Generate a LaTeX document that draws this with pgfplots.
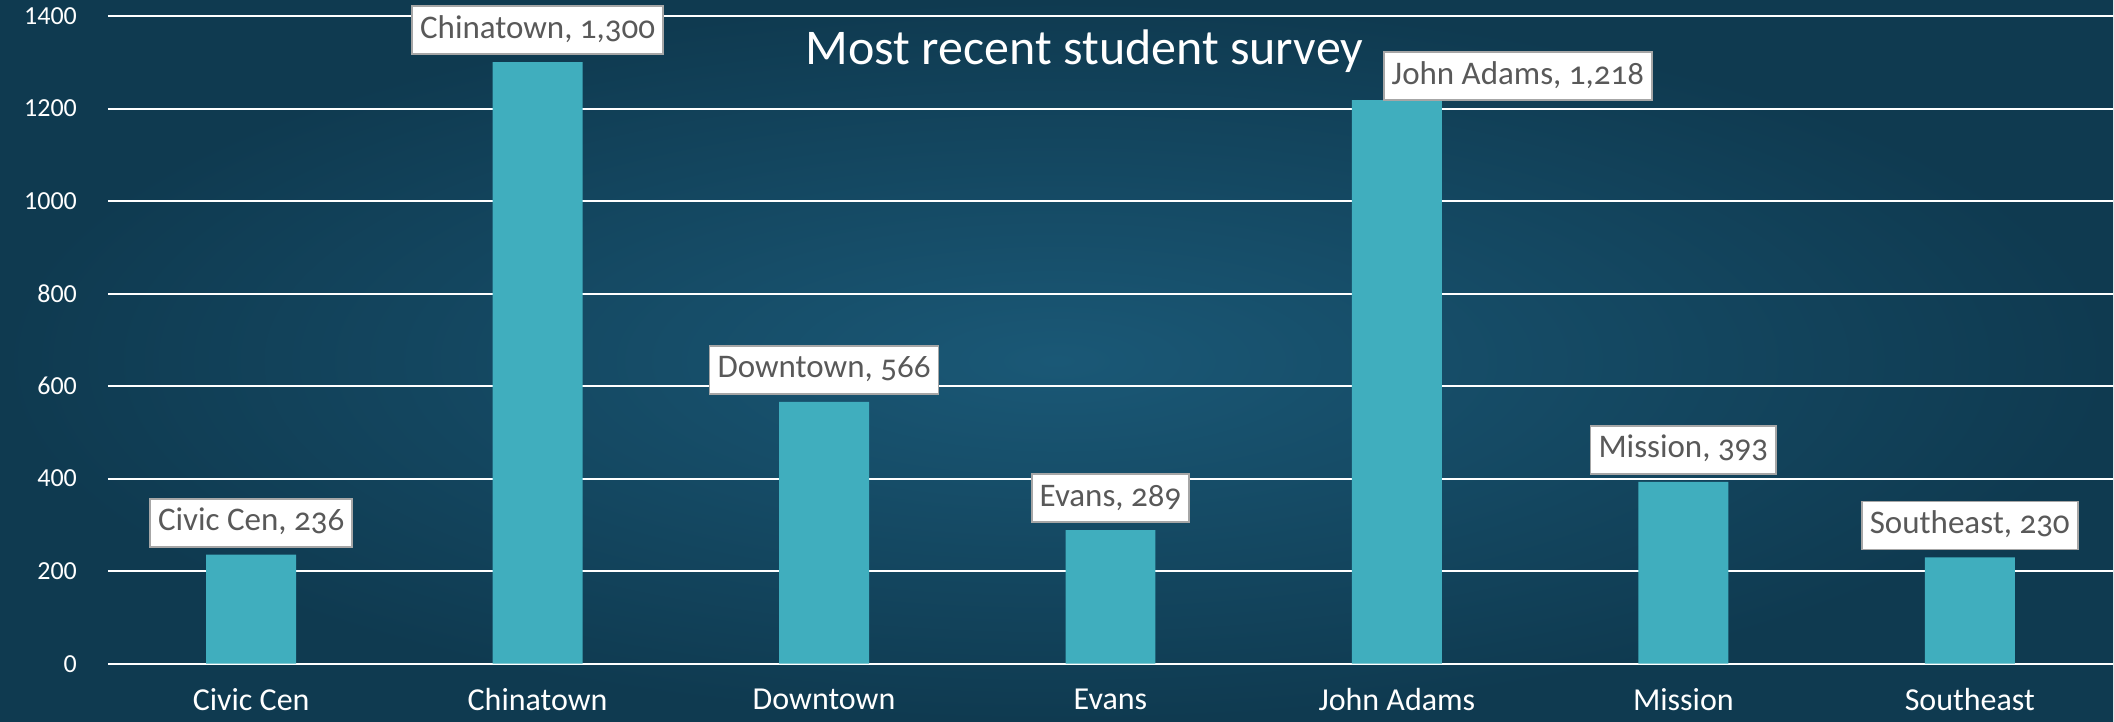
\documentclass[border=0pt]{standalone}
\usepackage{pgfplots}
\usepackage{pgfplotstable}
\pgfplotsset{compat=1.18}
\usepackage{fontspec}
\setmainfont{Carlito}
\newfontfamily\labelfont[Numbers=OldStyle]{Carlito}
\usetikzlibrary{backgrounds,calc}

\definecolor{barcol}{HTML}{40AEBE}
\definecolor{bginner}{HTML}{1A5876}
\definecolor{bgouter}{HTML}{0F3A50}
\definecolor{labeltext}{HTML}{595959}
\definecolor{labelframe}{HTML}{A6A6A6}

% x, value, label shift (pt), label text
\pgfplotstableread{
x y dx dy label
0 236 0 0 {Civic Cen, 236}
1 1300 0 0 {Chinatown, 1,300}
2 566 0 0 {Downtown, 566}
3 289 0 0 {Evans, 289}
4 1218 60.5 -4 {John Adams, 1,218}
5 393 0 0 {Mission, 393}
6 230 0 0 {Southeast, 230}
}\survey

\begin{document}
\begin{tikzpicture}
\begin{axis}[
  name=ax,
  width=1003pt, height=324pt,
  scale only axis,
  xmin=-0.5, xmax=6.5,
  ymin=0, ymax=1400,
  ytick={0,200,...,1400},
  xtick={0,...,6},
  xticklabels={Civic Cen, Chinatown, Downtown, Evans, John Adams, Mission, Southeast},
  axis line style={draw=none},
  major tick length=0pt,
  ymajorgrids,
  grid style={white, line width=1pt},
  /pgf/number format/assume math mode=true,
  /pgf/number format/1000 sep={},
  yticklabel style={font=\fontsize{13}{13}\selectfont, text=white, xshift=-12pt},
  xticklabel style={font=\fontsize{16}{16}\selectfont, text=white, yshift=-9pt},
  ybar, bar width=45pt,
  point meta=explicit symbolic,
  nodes near coords={\pgfplotspointmeta},
  visualization depends on={\thisrow{dx} \as \dx},
  visualization depends on={\thisrow{dy} \as \dy},
  nodes near coords style={
    font=\labelfont\fontsize{16.5}{16.5}\selectfont, text=labeltext,
    fill=white, draw=labelframe, line width=0.9pt,
    text height=12pt, text depth=4pt,
    inner xsep=4pt, inner ysep=4pt,
    anchor=south, yshift=3.5pt+\dy, xshift=\dx},
]
\addplot[fill=barcol, draw=none] table[x=x, y=y, meta=label] {\survey};
\node[text=white, font=\fontsize{25}{25}\selectfont] at (rel axis cs:0.487,0.946) {Most recent student survey};
\end{axis}
\begin{pgfonlayer}{background}
\shade[inner color=bginner, outer color=bgouter]
  ($(ax.south west)+(-54pt,-29pt)$) rectangle ($(ax.north east)+(0pt,8pt)$);
\end{pgfonlayer}
\end{tikzpicture}
\end{document}
